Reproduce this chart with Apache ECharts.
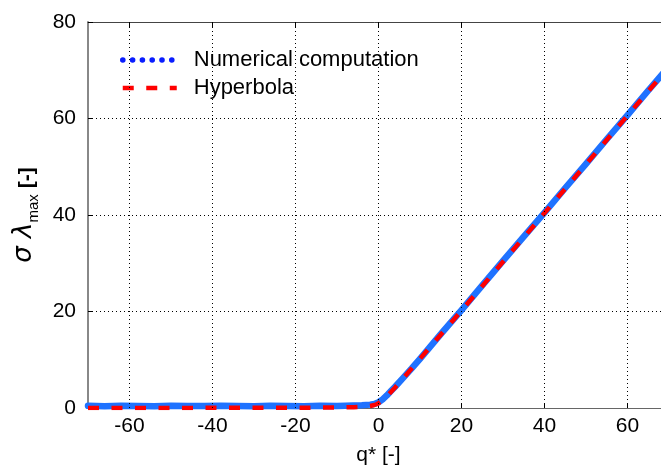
<!DOCTYPE html>
<html><head><meta charset="utf-8">
<script src="https://cdn.jsdelivr.net/npm/echarts@6/dist/echarts.min.js"></script>
<style>html,body{margin:0;padding:0;background:#fff}#c{width:661px;height:466px}</style>
</head><body><div id="c"></div>
<script>
// x tick labels / grid positions
const xTicks = [-60, -40, -20, 0, 20, 40, 60];
// Numerical computation
const qNum = [-70,-66,-62,-58,-54,-50,-46,-42,-38,-34,-30,-26,-22,-18,-14,-10,-6,-4,-2,-1,0,1,2,3,4,6,8,10,15,20,25,30,35,40,45,50,55,60,65,70];
const yNum = [0.45,0.38,0.48,0.41,0.36,0.47,0.42,0.39,0.46,0.40,0.37,0.48,0.43,0.38,0.45,0.42,0.50,0.55,0.70,0.85,1.2,1.8,2.6,3.5,4.4,6.3,8.2,10.2,15.3,20.3,25.4,30.5,35.5,40.5,45.6,50.6,55.7,60.7,65.8,70.8];
// Hyperbola
const qHyp = [-70,-60,-50,-40,-30,-20,-15,-10,-6,-4,-3,-2,-1,-0.5,0,0.5,1,2,3,4,6,10,15,20,30,40,50,60,70];
const yHyp = [0.01,0.02,0.02,0.03,0.03,0.05,0.07,0.10,0.16,0.24,0.30,0.41,0.62,0.78,1.0,1.28,1.62,2.42,3.32,4.26,6.2,10.2,15.2,20.2,30.3,40.4,50.5,60.6,70.7];

const numData = qNum.map((q, i) => [q, yNum[i]]);
const hypData = qHyp.map((q, i) => [q, yHyp[i]]);
const font = 'Liberation Sans';
const chart = echarts.init(document.getElementById('c'), null, {renderer: 'canvas'});
chart.setOption({
  animation: false,
  backgroundColor: '#fff',
  textStyle: {fontFamily: font},
  grid: {left: 88, top: 22, right: -8, bottom: 58, containLabel: false, outerBoundsMode: 'none'},
  legend: {
    orient: 'vertical', left: 116, top: 49, padding: 0, itemWidth: 58, itemHeight: 14, itemGap: 6,
    textStyle: {fontFamily: font, fontSize: 22, color: '#000', padding: [0, 0, 0, 12]},
    data: [
      {name: 'Numerical computation', itemStyle: {opacity: 0},
       lineStyle: {color: '#0a1eff', width: 5.5, type: [0.1, 9.7], cap: 'round', dashOffset: -4}},
      {name: 'Hyperbola', itemStyle: {opacity: 0},
       lineStyle: {color: '#ff0000', width: 4.5, type: [11, 12.5], cap: 'butt'}}
    ]
  },
  xAxis: [{
    type: 'value', min: -70, max: 70, position: 'bottom',
    axisLine: {show: true, onZero: false, lineStyle: {color: '#666', width: 1}},
    axisTick: {show: true, inside: true, length: 5, customValues: xTicks, lineStyle: {color: '#000'}},
    axisLabel: {customValues: xTicks, fontFamily: font, fontSize: 21, color: '#000', margin: 8},
    splitLine: {show: false},
    name: 'q* [-]', nameLocation: 'middle', nameGap: 37,
    nameTextStyle: {fontFamily: font, fontSize: 21, color: '#000'}
  }, {
    type: 'value', min: -70, max: 70, position: 'top',
    axisLine: {show: true, onZero: false, lineStyle: {color: '#444', width: 1}},
    axisTick: {show: true, inside: true, length: 5, customValues: xTicks, lineStyle: {color: '#000'}},
    axisLabel: {show: false},
    splitLine: {show: false}
  }],
  yAxis: {
    type: 'value', min: 0, max: 80, interval: 20,
    axisLine: {show: true, onZero: false, lineStyle: {color: '#888', width: 2}},
    axisTick: {show: true, inside: true, length: 5, lineStyle: {color: '#000'}},
    axisLabel: {fontFamily: font, fontSize: 21, color: '#000', margin: 12},
    splitLine: {show: true, lineStyle: {color: '#000', width: 1, type: [1, 3]}},
    name: '{s|σ λ}{sub|max}{b| [-]}', nameLocation: 'middle', nameGap: 48,
    nameTextStyle: {
      color: '#000',
      rich: {
        s: {fontFamily: 'DejaVu Sans', fontStyle: 'italic', fontSize: 26, color: '#000', verticalAlign: 'bottom'},
        sub: {fontFamily: font, fontSize: 15, color: '#000', verticalAlign: 'bottom', padding: [0, 0, -4, 0]},
        b: {fontFamily: font, fontSize: 21, fontWeight: 'bold', color: '#000', verticalAlign: 'bottom'}
      }
    }
  },
  series: [
    {
      name: 'grid', type: 'line', data: [], z: 1, silent: true,
      markLine: {
        silent: true, symbol: ['none', 'none'], label: {show: false},
        lineStyle: {color: '#000', width: 1, type: [1, 3]},
        data: xTicks.map(v => ({xAxis: v}))
      }
    },
    {
      name: 'Numerical computation', type: 'line', data: numData, z: 3,
      showSymbol: false, symbol: 'none',
      lineStyle: {color: '#1f72ff', width: 6.5, cap: 'round', join: 'round'},
      itemStyle: {color: '#0a1eff'}
    },
    {
      name: 'Hyperbola', type: 'line', data: hypData, z: 4,
      showSymbol: false, symbol: 'none',
      lineStyle: {color: '#ff0000', width: 4.5, type: [11, 12.5]},
      itemStyle: {color: '#ff0000'}
    }
  ]
});
</script></body></html>
